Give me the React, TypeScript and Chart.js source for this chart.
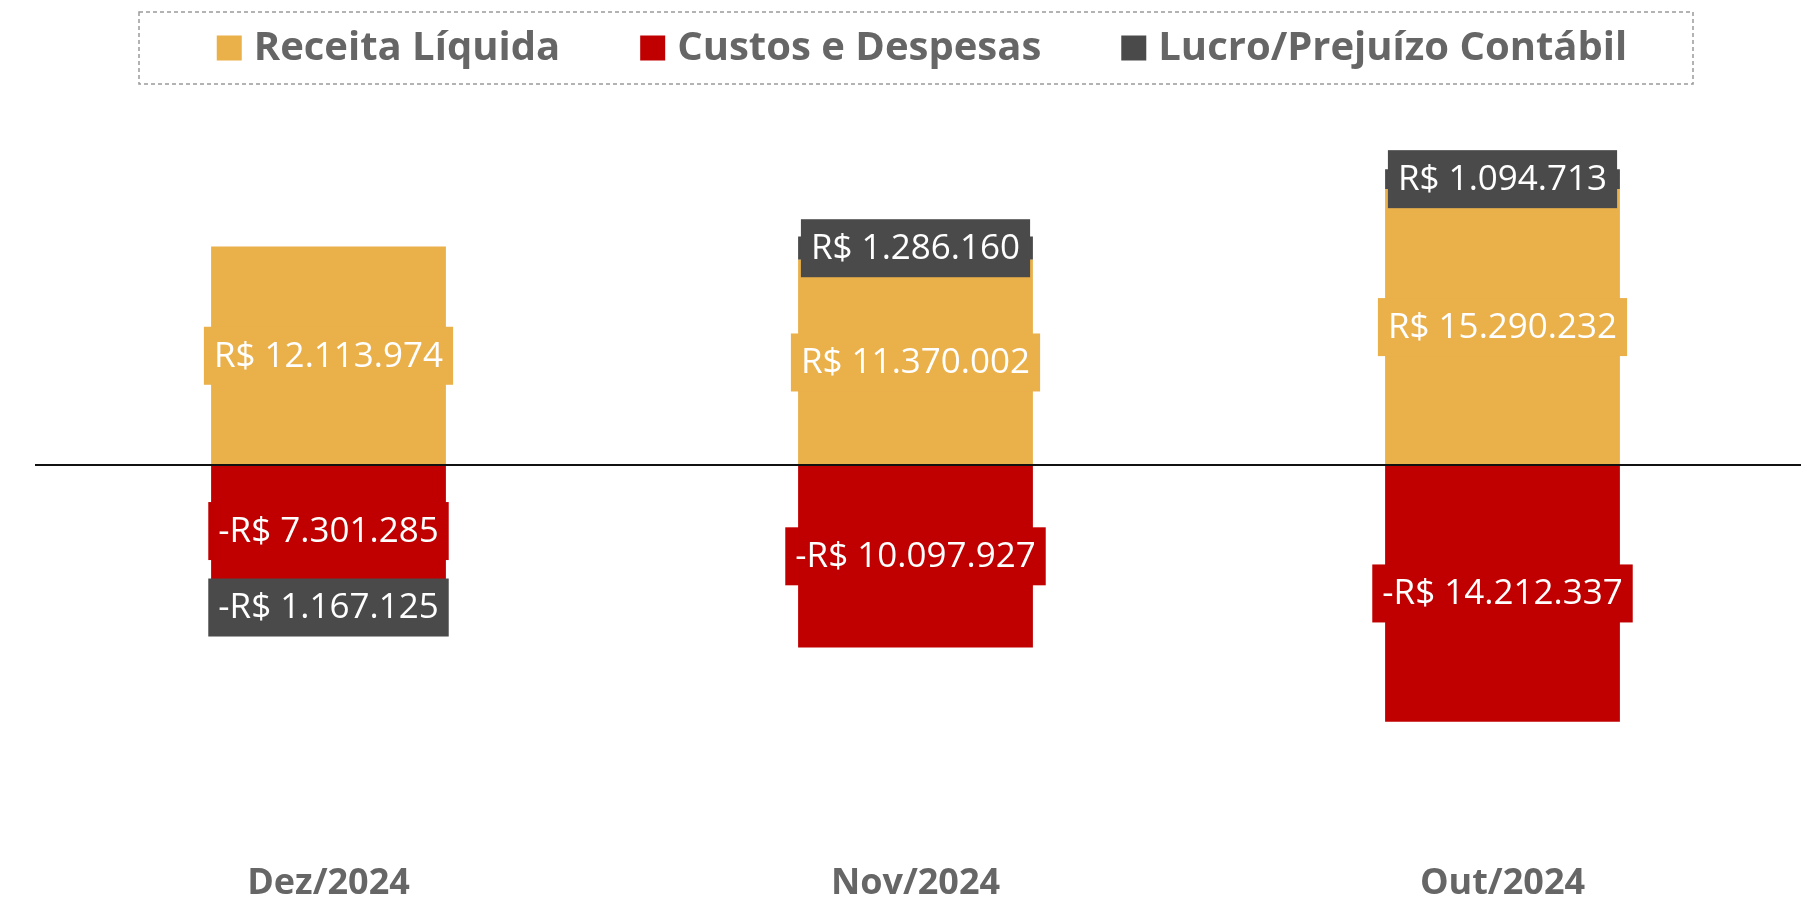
import { useEffect, useRef } from "react";
import { Chart, registerables } from "chart.js";
Chart.register(...registerables);

const categories = ["Dez/2024", "Nov/2024", "Out/2024"];
const receita = [12113974, 11370002, 15290232];
const custos = [-7301285, -10097927, -14212337];
const lucro = [-1167125, 1286160, 1094713];
const seriesNames = ["Receita Líquida", "Custos e Despesas", "Lucro/Prejuízo Contábil"];
const seriesColors = ["#EAB04A", "#C00000", "#4A4A4A"];
const yMin = -22200000;
const yMax = 20000000;

function fmt(v: number) {
  const s = Math.abs(Math.round(v)).toString().replace(/\B(?=(\d{3})+(?!\d))/g, ".");
  return (v < 0 ? "-" : "") + "R$ " + s;
}

const labelPlugin = {
  id: "valueLabels",
  afterDatasetsDraw(chart: any) {
    const ctx = chart.ctx;
    ctx.save();
    // zero line drawn over the bars
    const y0 = Math.round(chart.scales.y.getPixelForValue(0));
    ctx.strokeStyle = "#111111";
    ctx.lineWidth = 2;
    ctx.beginPath();
    ctx.moveTo(chart.chartArea.left, y0);
    ctx.lineTo(chart.width, y0);
    ctx.stroke();

    ctx.font = "35px 'Open Sans'";
    ctx.textAlign = "center";
    ctx.textBaseline = "middle";
    chart.data.datasets.forEach((ds: any, di: number) => {
      const meta = chart.getDatasetMeta(di);
      meta.data.forEach((bar: any, i: number) => {
        const v = ds.data[i] as number;
        const { x, y, base } = bar.getProps(["x", "y", "base"], true);
        const cy = (y + base) / 2;
        const text = fmt(v);
        const w = ctx.measureText(text).width + 20;
        const h = 58;
        ctx.fillStyle = ds.backgroundColor;
        ctx.fillRect(x - w / 2, cy - h / 2, w, h);
        ctx.fillStyle = "#ffffff";
        ctx.fillText(text, x, cy + 1);
      });
    });
    ctx.restore();
  },
};

const legendPlugin = {
  id: "customLegend",
  afterDraw(chart: any) {
    const ctx = chart.ctx;
    ctx.save();
    ctx.font = "bold 40px 'Open Sans'";
    const box = 25;
    const gapText = 12;
    const gapItem = 80;
    const widths = seriesNames.map((n) => ctx.measureText(n).width);
    const total = widths.reduce((a, b) => a + b, 0) + seriesNames.length * (box + gapText) + gapItem * (seriesNames.length - 1);
    const cx = 922;
    let x = cx - total / 2;
    const cy = 48;
    ctx.strokeStyle = "#9a9a9a";
    ctx.lineWidth = 1.5;
    ctx.setLineDash([4, 3]);
    ctx.strokeRect(139, 12, 1554, 72);
    ctx.setLineDash([]);
    ctx.textAlign = "left";
    ctx.textBaseline = "middle";
    seriesNames.forEach((n, i) => {
      ctx.fillStyle = seriesColors[i];
      ctx.fillRect(x, cy - box / 2, box, box);
      x += box + gapText;
      ctx.fillStyle = "#666666";
      ctx.fillText(n, x, cy + 1);
      x += widths[i] + gapItem;
    });
    ctx.restore();
  },
};

export default function App() {
  const ref = useRef<HTMLCanvasElement | null>(null);
  useEffect(() => {
    if (!ref.current) return;
    const chart = new Chart(ref.current, {
      type: "bar",
      data: {
        labels: categories,
        datasets: [
          { label: seriesNames[0], data: receita, backgroundColor: seriesColors[0] },
          { label: seriesNames[1], data: custos, backgroundColor: seriesColors[1] },
          { label: seriesNames[2], data: lucro, backgroundColor: seriesColors[2] },
        ],
      },
      options: {
        responsive: false,
        animation: false,
        devicePixelRatio: 1,
        layout: { padding: { left: 35, right: 5, top: 104, bottom: -5 } },
        datasets: { bar: { categoryPercentage: 1, barPercentage: 0.4 } },
        plugins: { legend: { display: false }, tooltip: { enabled: false } },
        scales: {
          x: {
            stacked: true,
            grid: { display: false, drawTicks: false },
            border: { display: false },
            ticks: {
              color: "#666666",
              padding: 0,
              font: { family: "'Open Sans'", size: 36, weight: "bold", lineHeight: 1 },
            },
          },
          y: {
            stacked: true,
            min: yMin,
            max: yMax,
            grid: { display: false, drawTicks: false },
            border: { display: false },
            ticks: { display: false },
          },
        },
      },
      plugins: [labelPlugin, legendPlugin],
    } as any);
    return () => chart.destroy();
  }, []);
  return (
    <div style={{ position: "absolute", left: 0, top: 0, width: 1801, height: 897, background: "#fff" }}>
      <canvas ref={ref} width={1801} height={897} style={{ display: "block" }} />
    </div>
  );
}
